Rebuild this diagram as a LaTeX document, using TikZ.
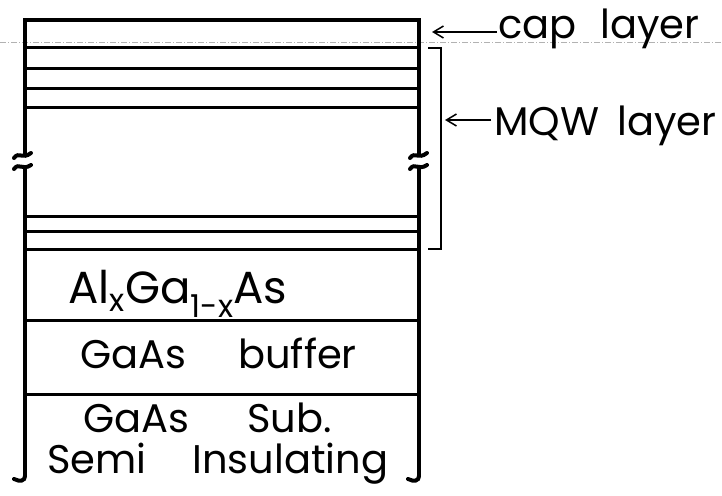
\documentclass[tikz,border=0pt]{standalone}
\usepackage{fontspec}
\setmainfont{Poppins}
\usetikzlibrary{arrows.meta, positioning}

\begin{document}
\begin{tikzpicture}[
    x=1pt, y=-1pt,
    wall/.style={line width=4pt, line cap=round},
    layerline/.style={line width=3pt},
    bracket/.style={line width=1.5pt},
    pointer/.style={-{Straight Barb[length=10pt, width=12pt]}, line width=1.5pt},
    tag/.style={inner sep=0pt, anchor=base west, font=\fontsize{40}{42}\selectfont},
    layername/.style={inner sep=0pt, anchor=base west, font=\fontsize{40}{42}\selectfont}
]
\useasboundingbox (0,0) rectangle (722,495);

% faint scan line
\draw[gray!60, line width=0.6pt, dash pattern=on 6pt off 2pt on 1pt off 2pt] (0,42) -- (722,42);

% outer walls with break marks
\draw[wall] (25,155) -- (25,20) -- (419,20) -- (419,155);
\draw[wall] (25,168) -- (25,476);
\draw[wall] (419,168) -- (419,476);
\draw[wall] (14,158) .. controls (19,151) and (22,160) .. (31,153);
\draw[wall] (14,169) .. controls (19,162) and (22,171) .. (31,165);
\draw[wall] (410,158) .. controls (415,151) and (418,160) .. (427,153);
\draw[wall] (410,169) .. controls (415,162) and (418,171) .. (427,165);
\draw[wall] (25,476) .. controls (25,481) and (20,482) .. (14,479);
\draw[wall] (419,476) .. controls (419,481) and (414,482) .. (408,479);

% layer boundaries
\foreach \ly in {48,68,88,107,216,231,249,320,394}
    \draw[layerline] (25,\ly) -- (419,\ly);

% MQW bracket
\draw[bracket] (428,48) -- (441,48) -- (441,249) -- (428,249);

% layer names
\node[layername, font=\fontsize{45}{47}\selectfont] (alga) at (68,303) {Al\textsubscript{x}Ga\textsubscript{1-x}As};
\node[layername] (buffer) at (80,368) {GaAs\hspace{1.3em}buffer};
\node[layername] (sub) at (83,432) {GaAs\hspace{1.45em}Sub.};
\node[layername, font=\fontsize{40}{42}\selectfont] (semi) at (47,473) {Semi\hspace{1.15em}Insulating};

% side labels
\coordinate (captip) at (432,32);
\coordinate (mqwtip) at (445,120);
\node[tag] (cap) at (498,38) {cap\hspace{0.6em}layer};
\node[tag] (mqw) at (494,135) {MQW\hspace{0.45em}layer};
\draw[pointer] ([xshift=-1pt]cap.west |- captip) -- (captip);
\draw[pointer] ([xshift=-3pt]mqw.west |- mqwtip) -- (mqwtip);

\end{tikzpicture}
\end{document}
